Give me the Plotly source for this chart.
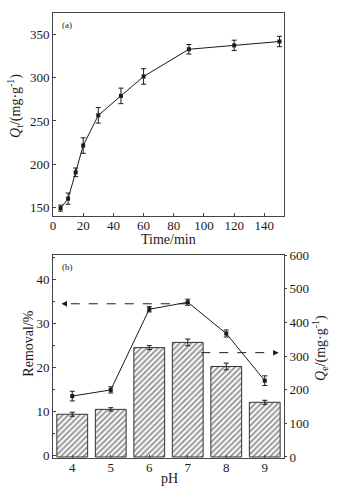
import plotly.graph_objects as go

# ---- Panel (a) data ----
time_min = [5, 10, 15, 20, 30, 45, 60, 90, 120, 150]
qt = [149, 160, 190.5, 221.5, 256.5, 279, 301.5, 333, 337.5, 342]
qt_err = [3.5, 6.5, 5, 9, 9, 9, 9, 5.5, 6, 6]

# ---- Panel (b) data ----
ph = [4, 5, 6, 7, 8, 9]
qe = [127, 141.5, 325, 340.5, 269, 162.5]
qe_err = [6, 5, 6, 10, 10, 6]
removal = [13.5, 14.9, 33.2, 34.8, 27.7, 17.0]
removal_err = [1.1, 0.7, 0.6, 0.7, 0.8, 1.1]

# ---- text ----
x_ticks_a = [0, 20, 40, 60, 80, 100, 120, 140]
y_ticks_a = [150, 200, 250, 300, 350]
y_ticks_removal = [0, 10, 20, 30, 40]
y_ticks_qe = [0, 100, 200, 300, 400, 500, 600]
title_time = "Time/min"
title_qt = "<i>Q</i><sub>t</sub>/(mg·g<sup>-1</sup>)"
title_ph = "pH"
title_removal = "Removal/%"
title_qe = "<i>Q</i><sub>e</sub>/(mg·g<sup>-1</sup>)"

FONT = "Liberation Serif, Times New Roman, serif"
BLACK = "#1a1a1a"
FRAME = "#444444"

fig = go.Figure()

fig.add_trace(go.Scatter(
    x=time_min, y=qt, mode="lines+markers",
    line=dict(color=BLACK, width=1),
    marker=dict(symbol="square", size=4, color=BLACK),
    error_y=dict(type="data", array=qt_err, color=BLACK, thickness=1, width=2.5),
    xaxis="x", yaxis="y", showlegend=False))

fig.add_trace(go.Bar(
    x=ph, y=qe, width=0.8,
    marker=dict(color="white", line=dict(color="#333333", width=1),
                pattern=dict(shape="/", fgcolor="#333333", bgcolor="white", size=4, solidity=0.5)),
    error_y=dict(type="data", array=qe_err, color=BLACK, thickness=1, width=2.5),
    xaxis="x2", yaxis="y2", showlegend=False))

fig.add_trace(go.Scatter(
    x=ph, y=removal, mode="lines+markers",
    line=dict(color=BLACK, width=1),
    marker=dict(symbol="square", size=4, color=BLACK),
    error_y=dict(type="data", array=removal_err, color=BLACK, thickness=1, width=2.5),
    xaxis="x2", yaxis="y3", showlegend=False))

# dashed guide arrows
LEFT_ARROW = dict(x0=7.0, x1=3.72, y=34.45)
RIGHT_ARROW = dict(x0=7.35, x1=9.36, y=310)

fig.add_shape(type="line", xref="x2", yref="y3",
              x0=LEFT_ARROW["x0"], x1=LEFT_ARROW["x1"] + 0.1,
              y0=LEFT_ARROW["y"], y1=LEFT_ARROW["y"],
              line=dict(color=BLACK, width=1, dash="dash"))
fig.add_annotation(xref="x2", yref="y3", axref="x2", ayref="y3",
                   x=LEFT_ARROW["x1"], y=LEFT_ARROW["y"],
                   ax=LEFT_ARROW["x1"] + 0.15, ay=LEFT_ARROW["y"],
                   text="", showarrow=True, arrowhead=2, arrowsize=1.1,
                   arrowwidth=1, arrowcolor=BLACK)
fig.add_shape(type="line", xref="x2", yref="y2",
              x0=RIGHT_ARROW["x0"], x1=RIGHT_ARROW["x1"] - 0.1,
              y0=RIGHT_ARROW["y"], y1=RIGHT_ARROW["y"],
              line=dict(color=BLACK, width=1, dash="dash"))
fig.add_annotation(xref="x2", yref="y2", axref="x2", ayref="y2",
                   x=RIGHT_ARROW["x1"], y=RIGHT_ARROW["y"],
                   ax=RIGHT_ARROW["x1"] - 0.15, ay=RIGHT_ARROW["y"],
                   text="", showarrow=True, arrowhead=2, arrowsize=1.1,
                   arrowwidth=1, arrowcolor=BLACK)

def label(text, x, y, size, angle=0):
    fig.add_annotation(xref="paper", yref="paper", x=x, y=y, text=text,
                       showarrow=False, xanchor="center", yanchor="middle",
                       textangle=angle, font=dict(size=size, family=FONT, color=BLACK))

# panel labels
label("(a)", 0.062, 0.973, 9)
label("(b)", 0.062, 0.430, 9)
# axis titles
label(title_time, 0.502, 0.492, 14)
label(title_ph, 0.506, -0.047, 14)
label(title_qt, -0.165, 0.791, 14, -90)
label(title_removal, -0.110, 0.256, 14, -90)
label(title_qe, 1.155, 0.247, 14, -90)

axis_common = dict(showline=True, linecolor=FRAME, linewidth=1, mirror=True,
                   ticks="inside", ticklen=3, tickcolor=FRAME,
                   showgrid=False, zeroline=False, automargin=False,
                   tickfont=dict(size=13, family=FONT, color=BLACK))

fig.update_layout(
    width=337, height=495,
    margin=dict(l=53, r=53, t=13, b=37),
    plot_bgcolor="white", paper_bgcolor="white",
    font=dict(family=FONT, color=BLACK),
    xaxis=dict(axis_common, domain=[0, 1], anchor="y", range=[0, 153],
               tickvals=x_ticks_a, ticklabelstandoff=-3),
    yaxis=dict(axis_common, domain=[0.544, 1], anchor="x", range=[140, 375],
               tickvals=y_ticks_a),
    xaxis2=dict(axis_common, domain=[0, 1], anchor="y2", range=[3.5, 9.5],
                tickvals=ph, ticklabelstandoff=-3),
    yaxis2=dict(axis_common, domain=[0, 0.456], anchor="x2", side="right",
                range=[-3, 600], tickvals=y_ticks_qe,
                ticks="outside", ticklen=2, mirror=False),
    yaxis3=dict(axis_common, overlaying="y2", anchor="x2", side="left",
                range=[-0.55, 45.5], tickvals=y_ticks_removal,
                minor=dict(tickvals=[5, 15, 25, 35, 45], ticks="inside", ticklen=2,
                           tickcolor=FRAME),
                mirror=False),
)

fig.write_html("out.html", config={"displayModeBar": False},
               post_script="document.body.style.margin='0';document.body.style.overflow='hidden';")
